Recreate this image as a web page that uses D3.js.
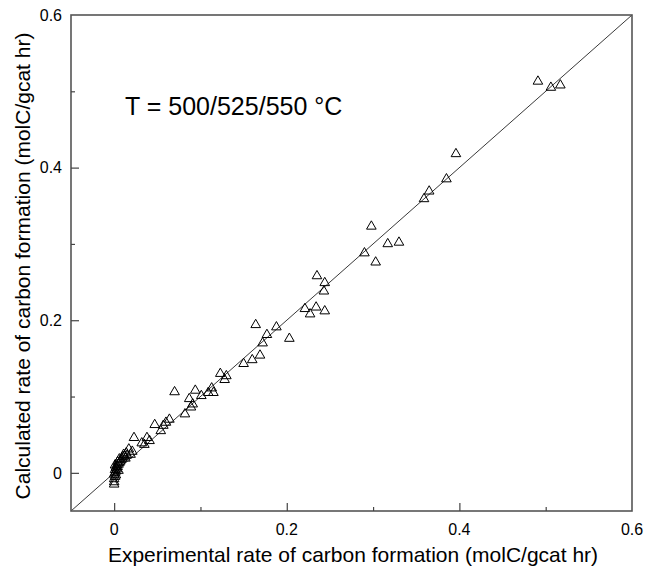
<!DOCTYPE html>
<html><head><meta charset="utf-8">
<script src="https://cdn.jsdelivr.net/npm/d3@7"></script>
<style>body{margin:0;background:#fff}svg{display:block}text{font-family:"Liberation Sans",Arial,Helvetica,sans-serif;fill:#000}</style>
</head><body>
<script>
const expRate = [0.491,0.506,0.517,0.396,0.385,0.365,0.359,0.298,0.317,0.330,0.290,0.303,
0.235,0.244,0.243,0.221,0.234,0.227,0.244,
0.164,0.188,0.177,0.203,0.172,0.169,0.160,0.150,
0.123,0.130,0.128,0.113,
0.070,0.094,0.109,0.115,0.101,0.087,0.091,0.089,0.082,
0.064,0.060,0.047,0.057,0.054,
0.023,0.038,0.041,0.032,0.035,0.017,0.021,0.014,0.019,
0.000,0.000,0.001,0.000,0.001,0.002,0.001,0.003,0.002,0.004,0.003,0.005,0.006,0.004,0.007,0.008,0.006,0.009,0.010,0.012,0.011,0.013,0.015,0.002,0.000,0.001,0.005];
const calcRate = [0.513,0.505,0.508,0.418,0.385,0.369,0.359,0.323,0.300,0.302,0.288,0.276,
0.258,0.249,0.238,0.215,0.217,0.208,0.212,
0.194,0.191,0.181,0.176,0.170,0.154,0.148,0.143,
0.130,0.127,0.122,0.111,
0.106,0.108,0.105,0.105,0.101,0.097,0.090,0.086,0.077,
0.070,0.066,0.063,0.062,0.055,
0.046,0.046,0.042,0.039,0.037,0.031,0.028,0.026,0.024,
-0.012,-0.008,-0.005,-0.002,0.000,0.002,0.004,0.005,0.007,0.008,0.010,0.011,0.013,0.014,0.015,0.017,0.018,0.019,0.021,0.022,0.024,0.019,0.023,-0.003,-0.015,0.010,0.003];
const majorTicks = [0, 0.2, 0.4, 0.6];
const minorTicks = [0.1, 0.3, 0.5];
const domain = [-0.05, 0.6];
const xTitle = "Experimental rate of carbon formation (molC/gcat hr)";
const yTitle = "Calculated rate of carbon formation (molC/gcat hr)";
const note = "T = 500/525/550 °C";

const W = 649, H = 572;
const svg = d3.select("body").append("svg").attr("width", W).attr("height", H);
const x = d3.scaleLinear().domain(domain).range([71, 632]);
const y = d3.scaleLinear().domain(domain).range([511, 15]);
const fmt = d => d === 0 ? "0" : d3.format(".1f")(d);

// parity line
svg.append("line")
  .attr("x1", x(domain[0])).attr("y1", y(domain[0]))
  .attr("x2", x(domain[1])).attr("y2", y(domain[1]))
  .attr("stroke", "#222").attr("stroke-width", 0.9);

// points
const tri = d3.symbol().type(d3.symbolTriangle).size(40);
svg.append("g").selectAll("path").data(expRate.map((v, i) => [v, calcRate[i]]))
  .join("path")
  .attr("d", tri)
  .attr("transform", d => `translate(${x(d[0])},${y(d[1])})`)
  .attr("fill", "none").attr("stroke", "#000").attr("stroke-width", 1);

// frame
svg.append("rect").attr("x", x(domain[0])).attr("y", y(domain[1]))
  .attr("width", x(domain[1]) - x(domain[0])).attr("height", y(domain[0]) - y(domain[1]))
  .attr("fill", "none").attr("stroke", "#555").attr("stroke-width", 1.6);

// x axis
const xAx = svg.append("g").attr("transform", `translate(0,${y(domain[0])})`);
xAx.call(d3.axisBottom(x).tickValues(majorTicks.filter(t => t < 0.6)).tickSizeInner(-8).tickSizeOuter(0).tickFormat(""));
xAx.append("g").call(d3.axisBottom(x).tickValues(minorTicks).tickSizeInner(-4).tickSizeOuter(0).tickFormat(""));
xAx.selectAll(".domain").remove();
xAx.selectAll("line").attr("stroke", "#444").attr("stroke-width", 1.2);
svg.append("g").selectAll("text").data(majorTicks).join("text")
  .attr("x", d => x(d)).attr("y", 535).attr("text-anchor", "middle")
  .attr("font-size", 16).text(fmt);

// y axis
const yAx = svg.append("g").attr("transform", `translate(${x(domain[0])},0)`);
yAx.call(d3.axisLeft(y).tickValues(majorTicks.filter(t => t < 0.6)).tickSizeInner(-8).tickSizeOuter(0).tickFormat(""));
yAx.append("g").call(d3.axisLeft(y).tickValues(minorTicks).tickSizeInner(-4).tickSizeOuter(0).tickFormat(""));
yAx.selectAll(".domain").remove();
yAx.selectAll("line").attr("stroke", "#444").attr("stroke-width", 1.2);
svg.append("g").selectAll("text").data(majorTicks).join("text")
  .attr("x", 62).attr("y", d => y(d)).attr("dy", "0.36em").attr("text-anchor", "end")
  .attr("font-size", 16).text(fmt);

// titles
svg.append("text").attr("x", 353).attr("y", 562).attr("text-anchor", "middle")
  .attr("font-size", 21).text(xTitle);
svg.append("text").attr("transform", "translate(30,266) rotate(-90)").attr("text-anchor", "middle")
  .attr("font-size", 21).text(yTitle);
svg.append("text").attr("x", 125).attr("y", 115).attr("font-size", 25).text(note);
</script>
</body></html>
